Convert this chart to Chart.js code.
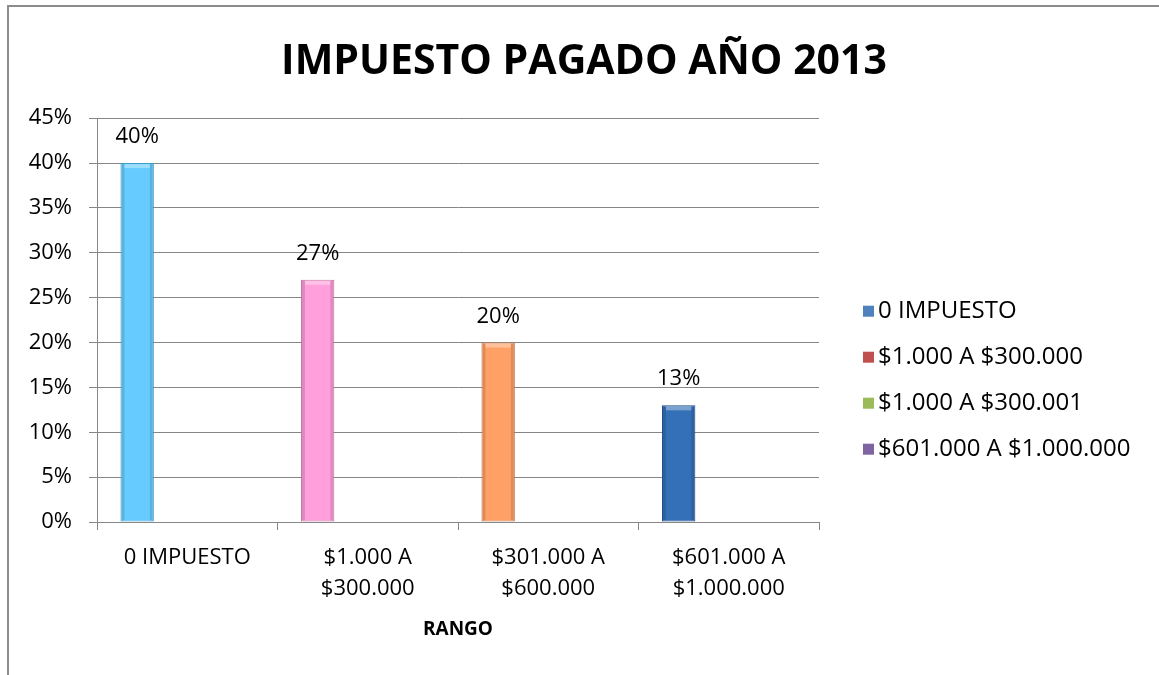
<!DOCTYPE html>
<html>
<head>
<meta charset="utf-8">
<title>Impuesto pagado año 2013</title>
<script src="https://cdn.jsdelivr.net/npm/chart.js@4"></script>
<style>
    html, body { margin: 0; padding: 0; background: #fff; }
    #wrap {
        position: absolute;
        left: 7px; top: 5px;
        width: 1150px; height: 668px;
        border-left: 2px solid #8c8c8c;
        border-top: 2px solid #8c8c8c;
    }
    #chart { display: block; }
</style>
</head>
<body>
<div id="wrap"><canvas id="chart" width="1150" height="668"></canvas></div>
<script>
// datos
const categories = [
    ['0 IMPUESTO'],
    ['$1.000 A', '$300.000'],
    ['$301.000 A', '$600.000'],
    ['$601.000 A', '$1.000.000']
];
const values = [40, 27, 20, 13];
const barColors = ['#66CCFF', '#FF9FDB', '#FFA066', '#3470B8'];
const barBorders = ['#3E9CCB', '#C8709F', '#C87440', '#1F4A80'];

// series de la leyenda (solo la primera tiene valores)
const seriesNames = ['0 IMPUESTO', '$1.000 A $300.000', '$1.000 A $300.001', '$601.000 A $1.000.000'];
const seriesColors = ['#4F81BD', '#C0504D', '#9BBB59', '#8064A2'];

const FONT = "'Open Sans', 'Noto Sans', sans-serif";

const datasets = seriesNames.map((name, i) => ({
    label: name,
    data: i === 0 ? values : categories.map(() => null),
    backgroundColor: i === 0 ? barColors : seriesColors[i],
    borderColor: i === 0 ? barBorders : seriesColors[i],
    borderWidth: 1,
    borderSkipped: false,
    barPercentage: 1,
    categoryPercentage: 0.74
}));

// sombreado de bisel en los bordes de las barras + etiquetas de valor
const barDecor = {
    id: 'barDecor',
    afterDatasetsDraw(chart) {
        const ctx = chart.ctx;
        const meta = chart.getDatasetMeta(0);
        ctx.save();
        meta.data.forEach((bar) => {
            const left = bar.x - bar.width / 2;
            const right = bar.x + bar.width / 2;
            const h = bar.base - bar.y;
            ctx.fillStyle = 'rgba(0,0,0,0.13)';
            ctx.fillRect(left + 1, bar.y + 1, 3, h - 2);
            ctx.fillRect(right - 4, bar.y + 1, 3, h - 2);
            ctx.fillStyle = 'rgba(255,255,255,0.35)';
            ctx.fillRect(left + 4, bar.y + 1, bar.width - 8, 4);
        });
        ctx.font = '22px ' + FONT;
        ctx.fillStyle = '#000';
        ctx.textAlign = 'center';
        ctx.textBaseline = 'alphabetic';
        meta.data.forEach((bar, i) => {
            ctx.fillText(values[i] + '%', bar.x, bar.y - 20);
        });
        ctx.restore();
    }
};

// leyenda a la derecha, estilo Excel
const sideLegend = {
    id: 'sideLegend',
    afterDraw(chart) {
        const ctx = chart.ctx;
        const area = chart.chartArea;
        const x = area.right + 44;
        let y = area.top + 193;
        ctx.save();
        ctx.font = '24px ' + FONT;
        ctx.textBaseline = 'middle';
        ctx.textAlign = 'left';
        seriesNames.forEach((name, i) => {
            ctx.fillStyle = seriesColors[i];
            ctx.fillRect(x, y - 5.5, 11, 11);
            ctx.fillStyle = '#000';
            ctx.fillText(name, x + 15, y);
            y += 46;
        });
        ctx.restore();
    }
};

new Chart(document.getElementById('chart'), {
    type: 'bar',
    data: { labels: categories, datasets: datasets },
    options: {
        responsive: false,
        devicePixelRatio: 1,
        animation: false,
        layout: { padding: 0 },
        plugins: {
            legend: { display: false },
            tooltip: { enabled: false },
            title: {
                display: true,
                text: 'IMPUESTO PAGADO AÑO 2013',
                color: '#000',
                font: { family: FONT, size: 41, weight: 'bold', lineHeight: 1.2 },
                padding: { top: 31, bottom: 31 }
            }
        },
        scales: {
            x: {
                grid: { drawOnChartArea: false, drawTicks: true, tickLength: 8, color: '#868686' },
                border: { color: '#868686' },
                ticks: {
                    color: '#000',
                    padding: 12,
                    maxRotation: 0,
                    autoSkip: false,
                    font: { family: FONT, size: 22, lineHeight: 1.41 }
                },
                title: {
                    display: true,
                    text: 'RANGO',
                    color: '#000',
                    font: { family: FONT, size: 19, weight: 'bold', lineHeight: 1.2 },
                    padding: { top: 4, bottom: 34 }
                },
                afterFit(scale) { scale.height = 153; }
            },
            y: {
                min: 0,
                max: 45,
                grid: { color: '#868686', tickLength: 8 },
                border: { color: '#868686' },
                ticks: {
                    stepSize: 5,
                    color: '#000',
                    padding: 17,
                    font: { family: FONT, size: 22 },
                    callback: v => v + '%'
                },
                afterFit(scale) { scale.width = 88; }
            },
            // eje vacio a la derecha: reserva el espacio de la leyenda
            side: {
                position: 'right',
                display: true,
                grid: { display: false },
                border: { display: false },
                ticks: { display: false },
                afterFit(scale) { scale.width = 340; }
            }
        }
    },
    plugins: [barDecor, sideLegend]
});
</script>
</body>
</html>
